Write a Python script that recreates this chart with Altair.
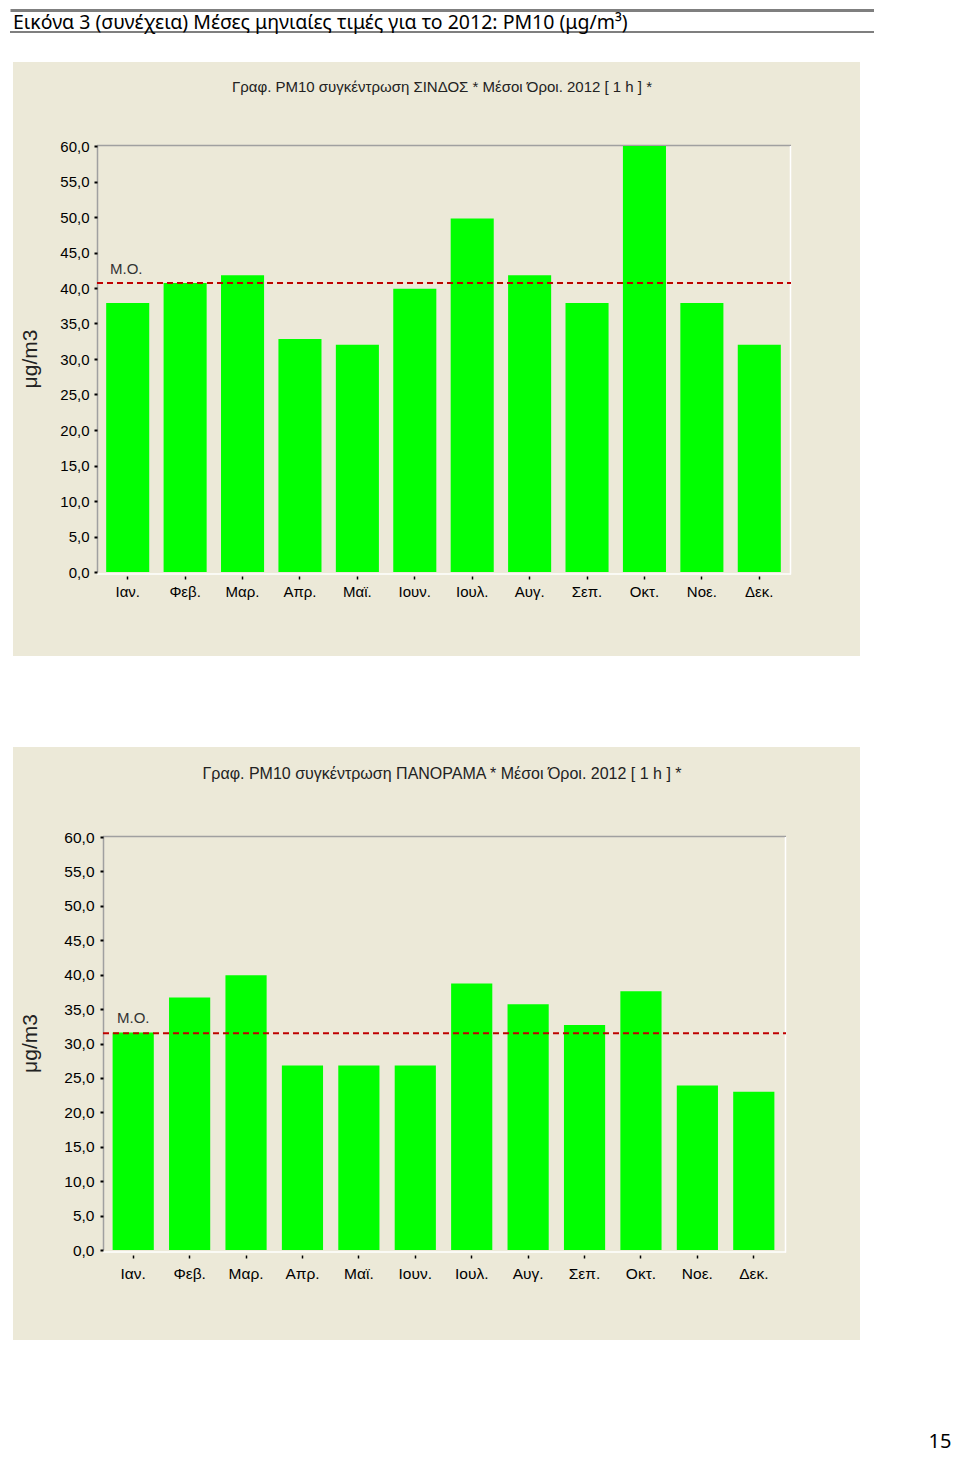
import altair as alt
import pandas as pd

# ---------------- data ----------------
months = ["Ιαν.", "Φεβ.", "Μαρ.", "Απρ.", "Μαϊ.", "Ιουν.",
          "Ιουλ.", "Αυγ.", "Σεπ.", "Οκτ.", "Νοε.", "Δεκ."]
sindos = [37.9, 40.7, 41.8, 32.8, 32.0, 39.9, 49.8, 41.8, 37.9, 60.0, 37.9, 32.0]
panorama = [31.6, 36.7, 39.9, 26.8, 26.8, 26.8, 38.7, 35.7, 32.7, 37.6, 23.9, 23.0]
mean_sindos = [40.7]
mean_panorama = [31.5]
y_ticks = [0, 5, 10, 15, 20, 25, 30, 35, 40, 45, 50, 55, 60]

header = "Εικόνα 3 (συνέχεια) Μέσες μηνιαίες τιμές για το 2012:  PM10 (μg/m³)"
title1 = "Γραφ. PM10 συγκέντρωση ΣΙΝΔΟΣ * Μέσοι Όροι. 2012 [ 1 h ] *"
title2 = "Γραφ. PM10 συγκέντρωση ΠΑΝΟΡΑΜΑ * Μέσοι Όροι. 2012 [ 1 h ] *"
y_title = "μg/m3"
mean_label = "Μ.Ο."
page_number = "15"

# ---------------- style ----------------
CHART_FONT = "Liberation Sans, Arial, sans-serif"
DOC_FONT = "Noto Sans, Open Sans, sans-serif"
BG = "#ECE9D8"
GREEN = "#00FF00"
RED = "#C00000"
GRAY = "#A0A0A0"


def txt(s, x, y, size, font, color="#000", align="left", baseline="middle", angle=None):
    props = dict(align=align, baseline=baseline, fontSize=size, font=font, color=color)
    if angle is not None:
        props["angle"] = angle
    return alt.Chart(pd.DataFrame({"t": [s]})).mark_text(**props).encode(
        text="t:N", x=alt.value(x), y=alt.value(y))


def hrule(x1, x2, y, color, width):
    return alt.Chart(pd.DataFrame({"a": [0]})).mark_rule(color=color, strokeWidth=width).encode(
        x=alt.value(x1), x2=alt.value(x2), y=alt.value(y))


def vrule(x, y1, y2, color, width):
    return alt.Chart(pd.DataFrame({"a": [0]})).mark_rule(color=color, strokeWidth=width).encode(
        x=alt.value(x), y=alt.value(y1), y2=alt.value(y2))


def box(x1, x2, y1, y2, color):
    return alt.Chart(pd.DataFrame({"a": [0]})).mark_rect(color=color).encode(
        x=alt.value(x1), x2=alt.value(x2), y=alt.value(y1), y2=alt.value(y2))


def panel(values, mean, title, title_size, W, H, L, R, xr, pinner, yoff, xoff, xpad, ypad,
          bg_y1, bg_y2, title_y, mo_x, mo_dy, lab_size, extra):
    df = pd.DataFrame({"month": months, "value": values})
    yscale = alt.Scale(domain=[0, 60], nice=False, zero=True)
    yaxis = alt.Axis(title=None, values=y_ticks, domain=False, grid=False,
                     labelOverlap=False, labelFlush=False,
                     labelExpr="replace(format(datum.value, '.1f'), '.', ',')",
                     tickSize=3, tickWidth=2, tickColor="#000", labelPadding=ypad,
                     labelFont=CHART_FONT, labelFontSize=lab_size, labelColor="#000",
                     offset=yoff, zindex=1)
    x = alt.X("month:N", sort=months,
              scale=alt.Scale(range=xr, paddingInner=pinner, paddingOuter=pinner / 2),
              axis=alt.Axis(title=None, domain=False, labelAngle=0, tickSize=3, tickWidth=1.5,
                            tickColor="#000", labelPadding=xpad, labelFont=CHART_FONT,
                            labelFontSize=lab_size, labelColor="#000", offset=xoff, zindex=1))
    y = alt.Y("value:Q", scale=yscale, axis=yaxis)
    bars = alt.Chart(df).mark_bar(color=GREEN).encode(x=x, y=y)
    mdf = pd.DataFrame({"value": mean, "t": [mean_label]})
    mrule = alt.Chart(mdf).mark_rule(color=RED, strokeWidth=2, strokeDash=[6, 4]).encode(
        y=alt.Y("value:Q", scale=yscale, axis=yaxis), x=alt.value(L), x2=alt.value(R))
    mtext = alt.Chart(mdf).mark_text(align="left", baseline="middle", font=CHART_FONT,
                                     fontSize=15, color="#333", dy=mo_dy).encode(
        y=alt.Y("value:Q", scale=yscale, axis=yaxis), x=alt.value(mo_x), text="t:N")
    layers = [
        box(-84, 763, bg_y1, bg_y2, BG),
        hrule(L, R, -0.5, GRAY, 1.5),
        vrule(L + 0.5, -0.5, H, GRAY, 1.5),
        vrule(R - 0.5, 0, H + 2.5, "#FFFFFF", 1.5),
        hrule(L, R, H + 2, "#FFFFFF", 1.5),
        bars,
        mrule,
        mtext,
        txt(title, 345, title_y, title_size, CHART_FONT, color="#222", align="center"),
        txt(y_title, -66, H / 2, 21, CHART_FONT, color="#222", align="center", angle=270),
    ] + extra
    return alt.layer(*layers).properties(width=W, height=H)


header_layers = [
    hrule(-86.5, 777, -135.5, "#7F7F7F", 3),
    hrule(-87, 777, -114, "#000000", 1.2),
    txt(header, -84, -123, 19.5, DOC_FONT, color="#000"),
]

p1 = panel(sindos, mean_sindos, title1, 15, W=694, H=426, L=0, R=694, xr=[2, 691], pinner=0.25,
           yoff=0, xoff=4, xpad=5, ypad=5, bg_y1=-84, bg_y2=510, title_y=-59, mo_x=13, mo_dy=-14,
           lab_size=15, extra=header_layers)
p2 = panel(panorama, mean_panorama, title2, 16, W=694, H=413, L=6, R=689, xr=[8, 685], pinner=0.27,
           yoff=-6, xoff=5, xpad=8, ypad=6, bg_y1=-90, bg_y2=503, title_y=-63, mo_x=20, mo_dy=-15,
           lab_size=15.5,
           extra=[txt(page_number, 843, 605, 20, DOC_FONT, color="#000", align="center")])

chart = alt.vconcat(p1, p2, spacing=265, bounds="flush").properties(
    padding={"left": 0, "top": 0, "right": 0, "bottom": 0},
    autosize=alt.AutoSizeParams(type="pad"),
).configure_view(stroke=None).configure(background="#FFFFFF")

chart.save("out.html", embed_options={"renderer": "svg", "actions": False})
